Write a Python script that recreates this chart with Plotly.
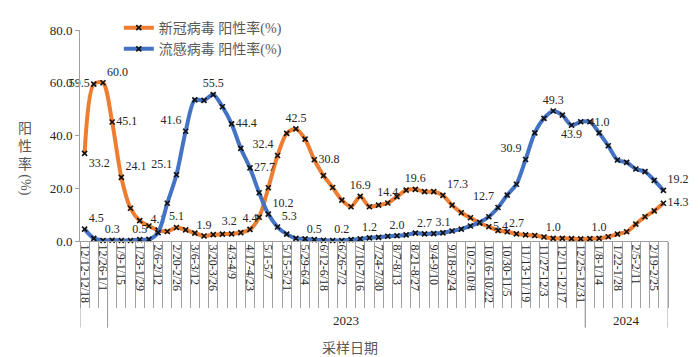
import plotly.graph_objects as go

weeks = [
    "12/12-12/18", "12/19-12/25", "12/26-1/1", "1/2-1/8", "1/9-1/15", "1/16-1/22",
    "1/23-1/29", "1/30-2/5", "2/6-2/12", "2/13-2/19", "2/20-2/26", "2/27-3/5",
    "3/6-3/12", "3/13-3/19", "3/20-3/26", "3/27-4/2", "4/3-4/9", "4/10-4/16",
    "4/17-4/23", "4/24-4/30", "5/1-5/7", "5/8-5/14", "5/15-5/21", "5/22-5/28",
    "5/29-6/4", "6/5-6/11", "6/12-6/18", "6/19-6/25", "6/26-7/2", "7/3-7/9",
    "7/10-7/16", "7/17-7/23", "7/24-7/30", "7/31-8/6", "8/7-8/13", "8/14-8/20",
    "8/21-8/27", "8/28-9/3", "9/4-9/10", "9/11-9/17", "9/18-9/24", "9/25-10/1",
    "10/2-10/8", "10/9-10/15", "10/16-10/22", "10/23-10/29", "10/30-11/5", "11/6-11/12",
    "11/13-11/19", "11/20-11/26", "11/27-12/3", "12/4-12/10", "12/11-12/17", "12/18-12/24",
    "12/25-12/31", "1/1-1/7", "1/8-1/14", "1/15-1/21", "1/22-1/28", "1/29-2/4",
    "2/5-2/11", "2/12-2/18", "2/19-2/25", "2/26-3/3",
]

covid = [
    33.2, 59.5, 60.0, 45.1, 24.1, 12.4, 7.7, 5.7, 4.1, 3.6,
    5.1, 4.2, 3.0, 1.9, 2.4, 2.6, 2.7, 3.2, 4.4, 9.0,
    20.2, 32.4, 40.8, 42.5, 38.6, 30.8, 24.8, 20.3, 15.5, 13.0,
    16.9, 13.0, 13.6, 14.4, 16.8, 19.3, 19.6, 18.7, 18.7, 17.3,
    13.6, 10.7, 8.8, 6.8, 5.4, 4.0, 3.5, 2.7, 2.3, 2.1,
    1.5, 1.0, 1.0, 0.9, 0.8, 0.9, 1.0, 1.6, 2.6, 3.5,
    6.4, 9.2, 11.4, 14.3,
]

flu = [
    4.5, 1.0, 0.2, 0.3, 0.2, 0.2, 0.5, 0.6, 3.2, 14.3,
    25.1, 41.6, 53.5, 53.3, 55.5, 50.9, 44.4, 35.1, 27.7, 18.3,
    10.2, 5.3, 2.6, 1.0, 0.8, 0.5, 0.3, 0.2, 0.2, 0.5,
    0.8, 1.2, 1.4, 1.8, 2.0, 2.3, 3.0, 2.7, 2.8, 3.1,
    3.8, 4.5, 5.7, 7.1, 9.2, 12.7, 17.4, 21.5, 30.9, 41.0,
    46.5, 49.3, 47.7, 43.9, 45.2, 45.2, 41.0, 36.1, 30.7, 29.8,
    27.3, 26.3, 23.0, 19.2,
]

series_names = ["新冠病毒 阳性率(%)", "流感病毒 阳性率(%)"]
year_groups = [("", 0, 2), ("2023", 3, 54), ("2024", 55, 63)]
x_title = "采样日期"
y_title_chars = "阳性率"
y_title_unit = "(%)"
y_ticks = [0, 20, 40, 60, 80]

# which points carry a data label, and where it sits
covid_label_pos = {0: "bottom right", 1: "middle left", 2: "top right", 3: "middle right",
                   4: "top right", 8: "top center", 10: "top center", 13: "top center",
                   17: "top left", 18: "top center", 21: "top left", 23: "top center",
                   25: "middle right", 30: "top center", 33: "top center", 36: "top center",
                   39: "top right", 44: "middle right", 47: "top center", 51: "top center",
                   56: "top center", 63: "middle right"}
flu_label_pos = {0: "top right", 3: "top center", 6: "top center", 10: "top left",
                 11: "top left", 14: "top center", 16: "middle right", 18: "middle right",
                 20: "top right", 21: "top right", 25: "top center", 28: "top center",
                 31: "top center", 34: "top center", 37: "top center", 39: "top center",
                 45: "top left", 48: "top left", 51: "top center", 53: "bottom center",
                 56: "top center", 63: "top right"}

SERIF = "Liberation Serif, 'Noto Sans CJK SC', serif"
GRAY = "#A0A0A0"
xs = list(range(len(weeks)))
boundaries = [i - 0.5 for i in range(len(weeks) + 1)]


def labels(vals, pos):
    txt = [f"{v:.1f}" if i in pos else "" for i, v in enumerate(vals)]
    tp = [pos.get(i, "top center") for i in range(len(vals))]
    return txt, tp


fig = go.Figure()
for name, vals, pos, color in [
    (series_names[0], covid, covid_label_pos, "#ED7D31"),
    (series_names[1], flu, flu_label_pos, "#4472C4"),
]:
    txt, tp = labels(vals, pos)
    fig.add_trace(go.Scatter(
        x=xs, y=vals, name=name, mode="lines+markers+text",
        text=txt, textposition=tp, cliponaxis=False,
        textfont=dict(family=SERIF, size=12, color="#262626"),
        line=dict(color=color, width=4, shape="spline", smoothing=0.8),
        marker=dict(symbol="x-thin", size=5, color="#111111",
                    line=dict(color="#111111", width=1.6)),
        hoverinfo="x+y",
    ))

shapes = []
for label, a, b in year_groups:
    for edge in (a - 0.5, b + 0.5):
        shapes.append(dict(type="line", xref="x", yref="paper", x0=edge, x1=edge,
                           y0=0, y1=-0.41, line=dict(color=GRAY, width=1)))
annotations = []
for label, a, b in year_groups:
    if label:
        annotations.append(dict(x=(a + b) / 2, y=-0.375, xref="x", yref="paper",
                                text=label, showarrow=False, xanchor="center", yanchor="middle",
                                font=dict(family=SERIF, size=13, color="#262626")))
annotations.append(dict(x=0.46, y=-0.50, xref="paper", yref="paper", text=x_title,
                        showarrow=False, xanchor="center", yanchor="middle",
                        font=dict(family="'Noto Sans CJK SC'", size=14, color="#595959")))
annotations.append(dict(x=-0.094, y=0.455, xref="paper", yref="paper",
                        text="<br>".join(y_title_chars), showarrow=False,
                        xanchor="center", yanchor="middle",
                        font=dict(family="'Noto Sans CJK SC'", size=14, color="#595959")))
annotations.append(dict(x=-0.094, y=0.265, xref="paper", yref="paper",
                        text=y_title_unit, showarrow=False, textangle=90,
                        xanchor="center", yanchor="middle",
                        font=dict(family=SERIF, size=14, color="#595959")))

fig.update_layout(
    width=700, height=357, autosize=False,
    margin=dict(l=80, r=32, t=30, b=116, autoexpand=False),
    paper_bgcolor="white", plot_bgcolor="white",
    showlegend=True,
    legend=dict(x=0.066, y=1.085, xanchor="left", yanchor="top",
                bgcolor="rgba(0,0,0,0)", tracegroupgap=0,
                font=dict(family=SERIF, size=14, color="#595959")),
    shapes=shapes, annotations=annotations,
    xaxis=dict(range=[-0.5, len(weeks) - 0.5], tickmode="array",
               tickvals=xs[::2], ticktext=weeks[::2], tickangle=90,
               ticks="", showgrid=False, zeroline=False, automargin=False,
               showline=True, linecolor=GRAY, linewidth=1,
               tickfont=dict(family=SERIF, size=12, color="#262626"),
               minor=dict(tickmode="array", tickvals=boundaries, ticks="outside",
                          ticklen=66, tickcolor=GRAY, tickwidth=1, showgrid=False)),
    yaxis=dict(range=[0, 80], tickvals=y_ticks, tickformat=".1f",
               ticks="outside", ticklen=4, tickcolor=GRAY, automargin=False,
               showgrid=False, zeroline=False, showline=True,
               linecolor=GRAY, linewidth=1,
               tickfont=dict(family=SERIF, size=13, color="#262626")),
)

fig.write_html("out.html", config={"displayModeBar": False},
               post_script="document.body.style.margin='0';document.body.style.overflow='hidden';")
